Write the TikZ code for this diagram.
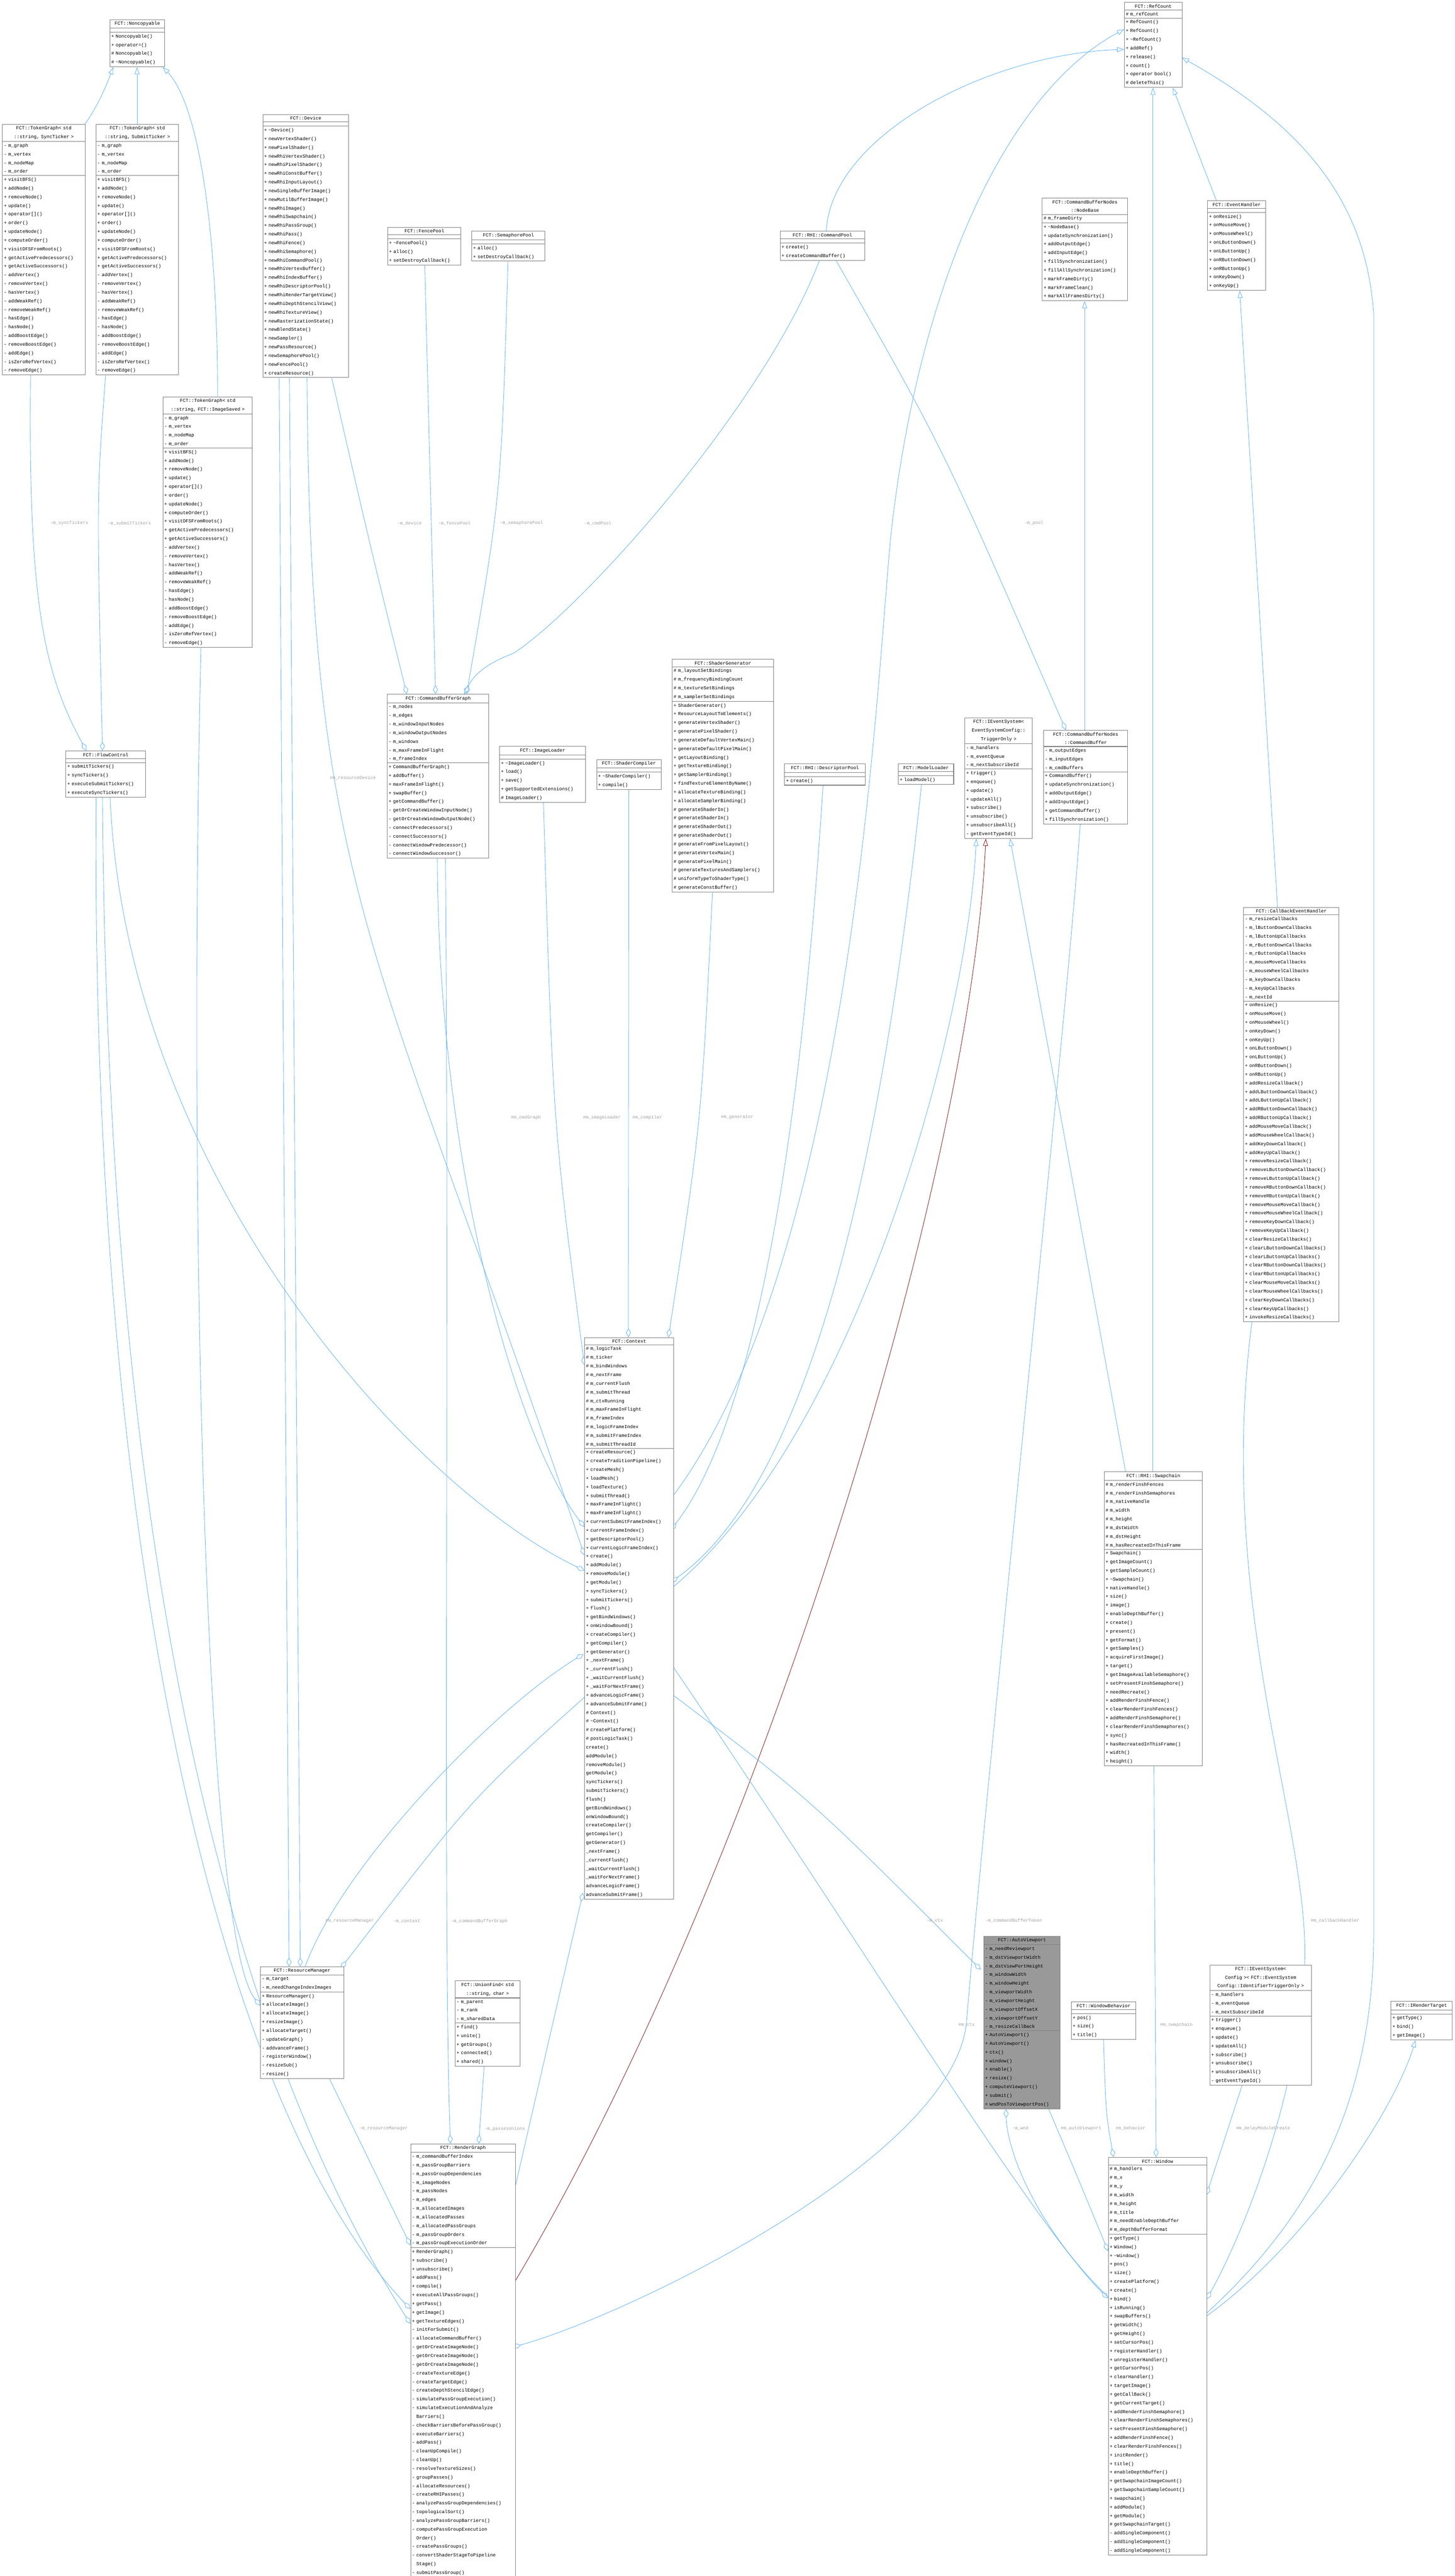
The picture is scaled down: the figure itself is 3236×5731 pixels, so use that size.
\documentclass[tikz,border=0pt]{standalone}
\usepackage{fontspec}
\setmonofont{Liberation Mono}
\usetikzlibrary{shapes.multipart,arrows.meta}
\pgfdeclarelayer{background}
\pgfsetlayers{background,main}
\definecolor{boxgray}{RGB}{128,128,128}
\definecolor{edgeblue}{RGB}{99,181,255}
\definecolor{lblgray}{RGB}{160,160,160}
\definecolor{darkred}{RGB}{139,26,26}
\definecolor{selgray}{RGB}{153,153,153}
\newcommand\dt{\textasciitilde}
\newcommand\umlfont{\ttfamily\fontsize{10.5}{19.3}\selectfont}
\tikzset{
 umlb/.style={draw=boxgray,line width=1.2pt,fill=white,rectangle split,rectangle split parts=3,
   inner xsep=3pt,inner ysep=4pt,anchor=north west,font=\umlfont},
 inh/.style={draw=edgeblue,line width=1pt,-{Triangle[open,length=16pt,width=11pt]}},
 rinh/.style={draw=darkred,line width=1pt,-{Triangle[open,length=16pt,width=11pt]}},
 comp/.style={draw=edgeblue,line width=1pt,-{Diamond[open,length=20pt,width=11pt]}},
 lbl/.style={text=lblgray,font=\ttfamily\fontsize{10}{12}\selectfont,inner sep=1pt}
}
\newcommand\umlbox[8][]{\node[umlb,text width=#5pt,#1] (#2) at (#3,-#4) {\centering #6\par\nodepart{two}\raggedright #7\nodepart{three}\raggedright #8};}
\catcode`\_=12
\begin{document}
\begin{tikzpicture}[x=1pt,y=1pt]
\useasboundingbox (0,0) rectangle (3236,-5731);

\umlbox{noncopy}{244}{43}{116}{FCT::Noncopyable}{\mbox{}}{+ Noncopyable()\\+ operator=()\\\# Noncopyable()\\\# \dt Noncopyable()}

\newcommand\tgmembers{- m_graph\\- m_vertex\\- m_nodeMap\\- m_order}
\newcommand\tgmethods{+ visitBFS()\\+ addNode()\\+ removeNode()\\+ update()\\+ operator[]()\\+ order()\\+ updateNode()\\+ computeOrder()\\+ visitDFSFromRoots()\\+ getActivePredecessors()\\+ getActiveSuccessors()\\- addVertex()\\- removeVertex()\\- hasVertex()\\- addWeakRef()\\- removeWeakRef()\\- hasEdge()\\- hasNode()\\- addBoostEdge()\\- removeBoostEdge()\\- addEdge()\\- isZeroRefVertex()\\- removeEdge()}
\umlbox{tgsync}{5}{276}{178}{FCT::TokenGraph< std\\::string, SyncTicker >}{\tgmembers}{\tgmethods}
\umlbox{tgsubmit}{213}{276}{178}{FCT::TokenGraph< std\\::string, SubmitTicker >}{\tgmembers}{\tgmethods}
\umlbox{tgimage}{362}{882}{193}{FCT::TokenGraph< std\\::string, FCT::ImageSaved >}{\tgmembers}{\tgmethods}

\umlbox{device}{584}{254}{185}{FCT::Device}{\mbox{}}{+ \dt Device()\\+ newVertexShader()\\+ newPixelShader()\\+ newRhiVertexShader()\\+ newRhiPixelShader()\\+ newRhiConstBuffer()\\+ newRhiInputLayout()\\+ newSingleBufferImage()\\+ newMutilBufferImage()\\+ newRhiImage()\\+ newRhiSwapchain()\\+ newRhiPassGroup()\\+ newRhiPass()\\+ newRhiFence()\\+ newRhiSemaphore()\\+ newRhiCommandPool()\\+ newRhiVertexBuffer()\\+ newRhiIndexBuffer()\\+ newRhiDescriptorPool()\\+ newRhiRenderTargetView()\\+ newRhiDepthStencilView()\\+ newRhiTextureView()\\+ newRasterizationState()\\+ newBlendState()\\+ newSampler()\\+ newPassResource()\\+ newSemaphorePool()\\+ newFencePool()\\+ createResource()}

\umlbox{fencepool}{862}{505}{157}{FCT::FencePool}{\mbox{}}{+ \dt FencePool()\\+ alloc()\\+ setDestroyCallback()}
\umlbox{sempool}{1049}{514}{157}{FCT::SemaphorePool}{\mbox{}}{+ alloc()\\+ setDestroyCallback()}
\umlbox{cmdpool}{1735}{514}{182}{FCT::RHI::CommandPool}{\mbox{}}{+ create()\\+ createCommandBuffer()}
\umlbox{nodebase}{2318}{440}{184}{FCT::CommandBufferNodes\\::NodeBase}{\# m_frameDirty}{+ \dt NodeBase()\\+ updateSynchronization()\\+ addOutputEdge()\\+ addInputEdge()\\+ fillSynchronization()\\+ fillAllSynchronization()\\+ markFrameDirty()\\+ markFrameClean()\\+ markAllFramesDirty()}
\umlbox{refcount}{2501}{5}{122}{FCT::RefCount}{\# m_refCount}{+ RefCount()\\+ RefCount()\\+ \dt RefCount()\\+ addRef()\\+ release()\\+ count()\\+ operator bool()\\\# deleteThis()}
\umlbox{evh}{2686}{446}{123}{FCT::EventHandler}{\mbox{}}{+ onResize()\\+ onMouseMove()\\+ onMouseWheel()\\+ onLButtonDown()\\+ onLButtonUp()\\+ onRButtonDown()\\+ onRButtonUp()\\+ onKeyDown()\\+ onKeyUp()}

\umlbox{flow}{146}{1670}{171}{FCT::FlowControl}{\mbox{}}{+ submitTickers()\\+ syncTickers()\\+ executeSubmitTickers()\\+ executeSyncTickers()}
\umlbox{cbg}{861}{1544}{220}{FCT::CommandBufferGraph}{- m_nodes\\- m_edges\\- m_windowInputNodes\\- m_windowOutputNodes\\- m_windows\\- m_maxFrameInFlight\\- m_frameIndex}{+ CommandBufferGraph()\\+ addBuffer()\\+ maxFrameInFlight()\\+ swapBuffer()\\+ getCommandBuffer()\\- getOrCreateWindowInputNode()\\- getOrCreateWindowOutputNode()\\- connectPredecessors()\\- connectSuccessors()\\- connectWindowPredecessor()\\- connectWindowSuccessor()}
\umlbox{imgloader}{1111}{1660}{185}{FCT::ImageLoader}{\mbox{}}{+ \dt ImageLoader()\\+ load()\\+ save()\\+ getSupportedExtensions()\\\# ImageLoader()}
\umlbox{shcomp}{1327}{1689}{137}{FCT::ShaderCompiler}{\mbox{}}{+ \dt ShaderCompiler()\\+ compile()}
\umlbox{shgen}{1495}{1466}{219}{FCT::ShaderGenerator}{\# m_layoutSetBindings\\\# m_frequencyBindingCount\\\# m_textureSetBindings\\\# m_samplerSetBindings}{+ ShaderGenerator()\\+ ResourceLayoutToElements()\\+ generateVertexShader()\\+ generatePixelShader()\\+ generateDefaultVertexMain()\\+ generateDefaultPixelMain()\\+ getLayoutBinding()\\+ getTextureBinding()\\+ getSamplerBinding()\\+ findTextureElementByName()\\+ allocateTextureBinding()\\+ allocateSamplerBinding()\\\# generateShaderIn()\\\# generateShaderIn()\\\# generateShaderOut()\\\# generateShaderOut()\\\# generateFromPixelLayout()\\\# generateVertexMain()\\\# generatePixelMain()\\\# generateTexturesAndSamplers()\\\# uniformTypeToShaderType()\\\# generateConstBuffer()}
\umlbox{descpool}{1745}{1699}{173}{FCT::RHI::DescriptorPool}{\mbox{}}{+ create()}
\umlbox{modelloader}{1998}{1699}{117}{FCT::ModelLoader}{\mbox{}}{+ loadModel()}
\newcommand\evmembers{- m_handlers\\- m_eventQueue\\- m_nextSubscribeId}
\newcommand\evmethods{+ trigger()\\+ enqueue()\\+ update()\\+ updateAll()\\+ subscribe()\\+ unsubscribe()\\+ unsubscribeAll()\\- getEventTypeId()}
\umlbox{evtrig}{2146}{1597}{144}{FCT::IEventSystem<\\EventSystemConfig::\\TriggerOnly >}{\evmembers}{\evmethods}
\umlbox{cmdbuf}{2321}{1624}{181}{FCT::CommandBufferNodes\\::CommandBuffer}{- m_outputEdges\\- m_inputEdges\\- m_cmdBuffers}{+ CommandBuffer()\\+ updateSynchronization()\\+ addOutputEdge()\\+ addInputEdge()\\+ getCommandBuffer()\\+ fillSynchronization()}

\umlbox{callback}{2766}{2018}{206}{FCT::CallBackEventHandler}{- m_resizeCallbacks\\- m_lButtonDownCallbacks\\- m_lButtonUpCallbacks\\- m_rButtonDownCallbacks\\- m_rButtonUpCallbacks\\- m_mouseMoveCallbacks\\- m_mouseWheelCallbacks\\- m_keyDownCallbacks\\- m_keyUpCallbacks\\- m_nextId}{+ onResize()\\+ onMouseMove()\\+ onMouseWheel()\\+ onKeyDown()\\+ onKeyUp()\\+ onLButtonDown()\\+ onLButtonUp()\\+ onRButtonDown()\\+ onRButtonUp()\\+ addResizeCallback()\\+ addLButtonDownCallback()\\+ addLButtonUpCallback()\\+ addRButtonDownCallback()\\+ addRButtonUpCallback()\\+ addMouseMoveCallback()\\+ addMouseWheelCallback()\\+ addKeyDownCallback()\\+ addKeyUpCallback()\\+ removeResizeCallback()\\+ removeLButtonDownCallback()\\+ removeLButtonUpCallback()\\+ removeRButtonDownCallback()\\+ removeRButtonUpCallback()\\+ removeMouseMoveCallback()\\+ removeMouseWheelCallback()\\+ removeKeyDownCallback()\\+ removeKeyUpCallback()\\+ clearResizeCallbacks()\\+ clearLButtonDownCallbacks()\\+ clearLButtonUpCallbacks()\\+ clearRButtonDownCallbacks()\\+ clearRButtonUpCallbacks()\\+ clearMouseMoveCallbacks()\\+ clearMouseWheelCallbacks()\\+ clearKeyDownCallbacks()\\+ clearKeyUpCallbacks()\\+ invokeResizeCallbacks()}

\umlbox{context}{1300}{2975}{192}{FCT::Context}{\# m_logicTask\\\# m_ticker\\\# m_bindWindows\\\# m_nextFrame\\\# m_currentFlush\\\# m_submitThread\\\# m_ctxRunning\\\# m_maxFrameInFlight\\\# m_frameIndex\\\# m_logicFrameIndex\\\# m_submitFrameIndex\\\# m_submitThreadId}{+ createResource()\\+ createTraditionPipeline()\\+ createMesh()\\+ loadMesh()\\+ loadTexture()\\+ submitThread()\\+ maxFrameInFlight()\\+ maxFrameInFlight()\\+ currentSubmitFrameIndex()\\+ currentFrameIndex()\\+ getDescriptorPool()\\+ currentLogicFrameIndex()\\+ create()\\+ addModule()\\+ removeModule()\\+ getModule()\\+ syncTickers()\\+ submitTickers()\\+ flush()\\+ getBindWindows()\\+ onWindowBound()\\+ createCompiler()\\+ getCompiler()\\+ getGenerator()\\+ _nextFrame()\\+ _currentFlush()\\+ _waitCurrentFlush()\\+ _waitForNextFrame()\\+ advanceLogicFrame()\\+ advanceSubmitFrame()\\\# Context()\\\# \dt Context()\\\# createPlatform()\\\# postLogicTask()\\* create()\\* addModule()\\* removeModule()\\* getModule()\\* syncTickers()\\* submitTickers()\\* flush()\\* getBindWindows()\\* onWindowBound()\\* createCompiler()\\* getCompiler()\\* getGenerator()\\* _nextFrame()\\* _currentFlush()\\* _waitCurrentFlush()\\* _waitForNextFrame()\\* advanceLogicFrame()\\* advanceSubmitFrame()}

\umlbox{swapchain}{2456}{3274}{212}{FCT::RHI::Swapchain}{\# m_renderFinshFences\\\# m_renderFinshSemaphores\\\# m_nativeHandle\\\# m_width\\\# m_height\\\# m_dstWidth\\\# m_dstHeight\\\# m_hasRecreatedInThisFrame}{+ Swapchain()\\+ getImageCount()\\+ getSampleCount()\\+ \dt Swapchain()\\+ nativeHandle()\\+ size()\\+ image()\\+ enableDepthBuffer()\\+ create()\\+ present()\\+ getFormat()\\+ getSamples()\\+ acquireFirstImage()\\+ target()\\+ getImageAvailableSemaphore()\\+ setPresentFinshSemaphore()\\+ needRecreate()\\+ addRenderFinshFence()\\+ clearRenderFinshFences()\\+ addRenderFinshSemaphore()\\+ clearRenderFinshSemaphores()\\+ sync()\\+ hasRecreatedInThisFrame()\\+ width()\\+ height()}

\umlbox{resmgr}{579}{4375}{179}{FCT::ResourceManager}{- m_target\\- m_needChangeIndexImages}{+ ResourceManager()\\+ allocateImage()\\+ allocateImage()\\+ resizeImage()\\+ allocateTarget()\\- updateGraph()\\- addvanceFrame()\\- registerWindow()\\- resizeSub()\\- resize()}
\umlbox{unionfind}{1012}{4406}{138}{FCT::UnionFind< std\\::string, char >}{- m_parent\\- m_rank\\- m_sharedData}{+ find()\\+ unite()\\+ getGroups()\\+ connected()\\+ shared()}
\umlbox{rendergraph}{913}{4769}{227}{FCT::RenderGraph}{- m_commandBufferIndex\\- m_passGroupBarriers\\- m_passGroupDependencies\\- m_imageNodes\\- m_passNodes\\- m_edges\\- m_allocatedImages\\- m_allocatedPasses\\- m_allocatedPassGroups\\- m_passGroupOrders\\- m_passGroupExecutionOrder}{+ RenderGraph()\\+ subscribe()\\+ unsubscribe()\\+ addPass()\\+ compile()\\+ executeAllPassGroups()\\+ getPass()\\+ getImage()\\+ getTextureEdges()\\- initForSubmit()\\- allocateCommandBuffer()\\- getOrCreateImageNode()\\- getOrCreateImageNode()\\- getOrCreateImageNode()\\- createTextureEdge()\\- createTargetEdge()\\- createDepthStencilEdge()\\- simulatePassGroupExecution()\\- simulateExecutionAndAnalyze\\\phantom{- }Barriers()\\- checkBarriersBeforePassGroup()\\- executeBarriers()\\- addPass()\\- cleanUpCompile()\\- cleanUp()\\- resolveTextureSizes()\\- groupPasses()\\- allocateResources()\\- createRHIPasses()\\- analyzePassGroupDependencies()\\- topologicalSort()\\- analyzePassGroupBarriers()\\- computePassGroupExecution\\\phantom{- }Order()\\- createPassGroups()\\- convertShaderStageToPipeline\\\phantom{- }Stage()\\- submitPassGroup()}

\umlbox[fill=selgray]{autovp}{2188}{4307}{164}{FCT::AutoViewport}{- m_needReviewport\\- m_dstViewportWidth\\- m_dstViewPortHeight\\- m_windowWidth\\- m_windowHeight\\- m_viewportWidth\\- m_viewportHeight\\- m_viewportOffsetX\\- m_viewportOffsetY\\- m_resizeCallBack}{+ AutoViewport()\\+ AutoViewport()\\+ ctx()\\+ window()\\+ enable()\\+ resize()\\+ computeViewport()\\+ submit()\\+ wndPosToViewportPos()}
\umlbox{winbeh}{2383}{4453}{137}{FCT::WindowBehavior}{\mbox{}}{+ pos()\\+ size()\\+ title()}
\umlbox{evcfg}{2691}{4371}{220}{FCT::IEventSystem<\\ Config >< FCT::EventSystem\\Config::IdentifierTriggerOnly >}{\evmembers}{\evmethods}
\umlbox{irt}{3094}{4452}{130}{FCT::IRenderTarget}{\mbox{}}{+ getType()\\+ bind()\\+ getImage()}
\umlbox{window}{2465}{4799}{213}{FCT::Window}{\# m_handlers\\\# m_x\\\# m_y\\\# m_width\\\# m_height\\\# m_title\\\# m_needEnableDepthBuffer\\\# m_depthBufferFormat}{+ getType()\\+ Window()\\+ \dt Window()\\+ pos()\\+ size()\\+ createPlatform()\\+ create()\\+ bind()\\+ isRunning()\\+ swapBuffers()\\+ getWidth()\\+ getHeight()\\+ setCursorPos()\\+ registerHandler()\\+ unregisterHandler()\\+ getCursorPos()\\+ clearHandler()\\+ targetImage()\\+ getCallBack()\\+ getCurrentTarget()\\+ addRenderFinshSemaphore()\\+ clearRenderFinshSemaphores()\\+ setPresentFinshSemaphore()\\+ addRenderFinshFence()\\+ clearRenderFinshFences()\\+ initRender()\\+ title()\\+ enableDepthBuffer()\\+ getSwapchainImageCount()\\+ getSwapchainSampleCount()\\+ swapchain()\\+ addModule()\\+ getModule()\\\# getSwapchainTarget()\\- addSingleComponent()\\- addSingleComponent()\\- addSingleComponent()}

\begin{pgfonlayer}{background}
\fill[white] (0,0) rectangle (3236,-5731);
% inheritance
\draw[inh] ([shift={(184,0)}]tgsync.north west) .. controls (215,-240) and (235,-195) .. ([shift={(8,0)}]noncopy.south west);
\draw[inh] ([shift={(92,0)}]tgsubmit.north west) -- ([shift={(61,0)}]noncopy.south west);
\draw[inh] ([shift={(122,0)}]tgimage.north west) .. controls (484,-500) and (440,-230) .. ([shift={(118,0)}]noncopy.south west);
\draw[inh] ([shift={(20,0)}]evh.north west) -- ([shift={(108,0)}]refcount.south west);
\draw[inh] ([shift={(109,0)}]swapchain.north west) -- ([shift={(64,0)}]refcount.south west);
\draw[inh] ([shift={(213,-353)}]window.north west) .. controls (2900,-4950) and (3056,-4700) .. (3056,-4300) -- (3056,-700) .. controls (3040,-450) and (2900,-280) .. ([shift={(128,-123)}]refcount.north west);
\draw[inh] ([shift={(92,0)}]cmdbuf.north west) -- ([shift={(95,0)}]nodebase.south west);
\draw[inh] ([shift={(76,0)}]callback.north west) -- ([shift={(72,0)}]evh.south west);
\draw[inh] ([shift={(213,-358)}]window.north west) .. controls (2900,-5000) and (3100,-4700) .. ([shift={(55,0)}]irt.south west);
\draw[inh] ([shift={(103,0)}]cmdpool.north west) .. controls (1850,-300) and (2200,-120) .. ([shift={(0,-105)}]refcount.north west);
\draw[inh] ([shift={(48,0)}]swapchain.north west) -- ([shift={(101,0)}]evtrig.south west);
\draw[inh] ([shift={(192,-560)}]context.north west) .. controls (1900,-3200) and (2150,-2300) .. ([shift={(26,0)}]evtrig.south west);
\draw[inh] ([shift={(192,-360)}]context.north west) .. controls (1900,-2800) and (1950,-1500) .. (1983,-1180) .. controls (2050,-600) and (2250,-200) .. ([shift={(0,-60)}]refcount.north west);
\draw[rinh] ([shift={(227,-316)}]rendergraph.north west) .. controls (1700,-4150) and (2160,-2600) .. ([shift={(47,0)}]evtrig.south west);

% composition
\draw[comp] ([shift={(63,0)}]tgsync.south west) .. controls (62,-1350) and (100,-1500) .. ([shift={(46,0)}]flow.north west);
\draw[comp] ([shift={(22,0)}]tgsubmit.south west) .. controls (215,-1100) .. ([shift={(82,0)}]flow.north west);
\draw[comp] ([shift={(154,0)}]device.south west) .. controls (820,-1200) .. ([shift={(44,0)}]cbg.north west);
\draw[comp] ([shift={(83,0)}]fencepool.south west) -- ([shift={(108,0)}]cbg.north west);
\draw[comp] ([shift={(81,0)}]sempool.south west) .. controls (1115,-1100) .. ([shift={(177,0)}]cbg.north west);
\draw[comp] ([shift={(88,0)}]cmdpool.south west) .. controls (1700,-900) and (1300,-1350) .. (1143,-1453) .. controls (1100,-1470) and (1060,-1490) .. ([shift={(172,0)}]cbg.north west);
\draw[comp] ([shift={(125,0)}]cmdpool.south west) .. controls (2100,-1000) .. ([shift={(50,0)}]cmdbuf.north west);
\draw[comp] ([shift={(98,0)}]imgloader.south west) .. controls (1230,-2500) .. ([shift={(0,-62)}]context.north west);
\draw[comp] ([shift={(72,0)}]shcomp.south west) -- ([shift={(98,0)}]context.north west);
\draw[comp] ([shift={(90,0)}]shgen.south west) .. controls (1560,-2500) .. ([shift={(187,0)}]context.north west);
\draw[comp] ([shift={(86,0)}]descpool.south west) .. controls (1770,-2700) and (1650,-3200) .. ([shift={(192,-429)}]context.north west);
\draw[comp] ([shift={(52,0)}]modelloader.south west) .. controls (1960,-2600) and (1800,-3300) .. ([shift={(192,-545)}]context.north west);
\draw[comp] ([shift={(112,0)}]cbg.south west) .. controls (975,-2600) and (1150,-3200) .. ([shift={(0,-422)}]context.north west);
\draw[comp] ([shift={(99,0)}]device.south west) .. controls (690,-2000) and (840,-2100) .. ([shift={(0,-485)}]context.north west);
\draw[comp] ([shift={(99,0)}]flow.south west) .. controls (280,-2600) and (900,-3300) .. ([shift={(0,-519)}]context.north west);
\draw[comp] ([shift={(37,0)}]device.south west) -- ([shift={(64,0)}]resmgr.north west);
\draw[comp] ([shift={(60,0)}]device.south west) -- ([shift={(89,0)}]resmgr.north west);
\draw[comp] ([shift={(85,0)}]tgimage.south west) .. controls (420,-2600) and (450,-4300) .. ([shift={(0,-87)}]resmgr.north west);
\draw[comp] ([shift={(100,0)}]resmgr.north west) .. controls (760,-4150) and (1100,-3800) .. ([shift={(-2,-705)}]context.north west);
\draw[comp] ([shift={(0,-801)}]context.north west) .. controls (1050,-4000) .. ([shift={(179,-4)}]resmgr.north west);
\draw[comp] ([shift={(154,0)}]resmgr.south west) -- ([shift={(0,-226)}]rendergraph.north west);
\draw[comp] ([shift={(65,0)}]unionfind.south west) -- ([shift={(152,0)}]rendergraph.north west);
\draw[comp] ([shift={(130,0)}]cbg.south west) .. controls (1000,-3000) and (985,-4300) .. ([shift={(89,0)}]rendergraph.north west);
\draw[comp] ([shift={(227,-123)}]rendergraph.north west) .. controls (1230,-4500) .. ([shift={(-3,15)}]context.south west);
\draw[comp] ([shift={(68,0)}]flow.south west) .. controls (200,-3500) and (500,-4700) .. ([shift={(0,-368)}]rendergraph.north west);
\draw[comp] ([shift={(82,0)}]flow.south west) .. controls (240,-3600) and (550,-4600) .. ([shift={(0,-401)}]rendergraph.north west);
\draw[comp] ([shift={(82,0)}]cmdbuf.south west) .. controls (2380,-2200) and (2200,-3900) .. (2150,-4500) .. controls (2120,-4800) and (1400,-5150) .. ([shift={(227,-453)}]rendergraph.north west);
\draw[comp] ([shift={(192,-792)}]context.north west) .. controls (1800,-4000) .. ([shift={(-6,-75)}]autovp.north west);
\draw[comp] ([shift={(192,-725)}]context.north west) .. controls (1900,-4300) and (2300,-4950) .. ([shift={(0,-314)}]window.north west);
\draw[comp] ([shift={(111,0)}]swapchain.south west) -- ([shift={(107,0)}]window.north west);
\draw[comp] ([shift={(72,0)}]winbeh.south west) .. controls (2460,-4700) .. ([shift={(12,0)}]window.north west);
\draw[comp] ([shift={(145,0)}]autovp.south west) .. controls (2400,-4850) .. ([shift={(0,-209)}]window.north west);
\draw[comp] ([shift={(0,-311)}]window.north west) .. controls (2300,-4950) and (2240,-4780) .. ([shift={(50,0)}]autovp.south west);
\draw[comp] ([shift={(72,0)}]evcfg.south west) -- ([shift={(219,-84)}]window.north west);
\draw[comp] ([shift={(19,0)}]callback.south west) .. controls (2700,-3600) and (2930,-4100) .. (2900,-4400) .. controls (2880,-4700) and (2750,-5000) .. ([shift={(219,-316)}]window.north west);
\end{pgfonlayer}

% labels
\node[lbl] (l1) at (154,-1164) {-m_syncTickers};
\node[lbl] (l2) at (288,-1164) {-m_submitTickers};
\node[lbl] (l3) at (911,-1164) {-m_device};
\node[lbl] (l4) at (1011,-1164) {-m_fencePool};
\node[lbl] (l5) at (1160,-1164) {-m_semaphorePool};
\node[lbl] (l6) at (1330,-1164) {-m_cmdPool};
\node[lbl] (l7) at (2300,-1164) {-m_pool};
\node[lbl] (l8) at (785,-1731) {\#m_resourceDevice};
\node[lbl] (l9) at (1170,-2486) {\#m_cmdGraph};
\node[lbl] (l10) at (1339,-2486) {\#m_imageLoader};
\node[lbl] (l11) at (1440,-2486) {\#m_compiler};
\node[lbl] (l12) at (1640,-2486) {\#m_generator};
\node[lbl] (l13) at (778,-4274) {\#m_resourceManager};
\node[lbl] (l14) at (905,-4274) {-m_context};
\node[lbl] (l15) at (1066,-4274) {-m_commandBufferGraph};
\node[lbl] (l16) at (853,-4736) {-m_resourceManager};
\node[lbl] (l17) at (1123,-4736) {-m_passesUnions};
\node[lbl] (l18) at (2080,-4273) {-m_ctx};
\node[lbl] (l19) at (2255,-4273) {-m_commandBufferToken};
\node[lbl] (l20) at (2970,-4273) {\#m_callbackHandler};
\node[lbl] (l21) at (2150,-4505) {\#m_ctx};
\node[lbl] (l22) at (2617,-4505) {\#m_swapchain};
\node[lbl] (l23) at (2270,-4735) {-m_wnd};
\node[lbl] (l24) at (2405,-4735) {\#m_autoViewport};
\node[lbl] (l25) at (2515,-4735) {\#m_behavior};
\node[lbl] (l26) at (2810,-4735) {\#m_delayModuleCreate};
\end{tikzpicture}
\end{document}
